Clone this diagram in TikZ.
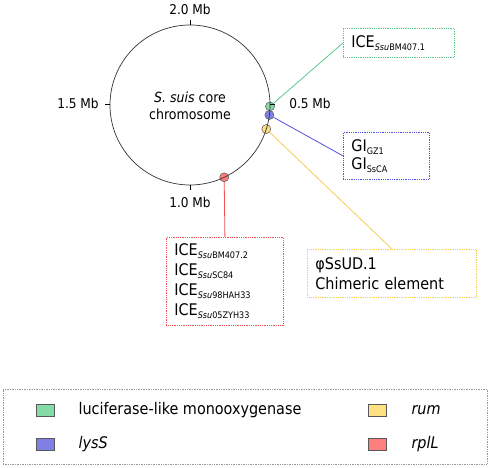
\documentclass[tikz,border=0pt]{standalone}
\usepackage{fontspec}
\setmainfont{DejaVu Sans Condensed}
\usepackage{tikz}
\usetikzlibrary{calc}
\definecolor{lucfill}{HTML}{85DBA8}
\definecolor{lucline}{HTML}{5CCB8C}
\definecolor{lysfill}{HTML}{7F7FE6}
\definecolor{lysline}{HTML}{5252E2}
\definecolor{rumfill}{HTML}{FFE184}
\definecolor{rumline}{HTML}{F5CD55}
\definecolor{rplfill}{HTML}{FF7F7F}
\definecolor{rplline}{HTML}{EF5252}
\newcommand{\subtag}[1]{\raisebox{-0.35ex}{\fontsize{9}{9}\selectfont #1}}

\begin{document}
\begin{tikzpicture}[x=1pt,y=1pt,
  mblabel/.style={font=\fontsize{13.5}{16}\selectfont},
  infobox/.style={draw,densely dotted,line width=0.8pt,align=left,inner xsep=8pt,
    inner ysep=4pt,anchor=north west},
  marker/.style={circle,draw=black!60,line width=0.6pt,minimum size=9pt,inner sep=0pt},
  swatch/.style={draw=black!65,line width=0.6pt,minimum width=18pt,minimum height=12pt,inner sep=0pt},
  keytext/.style={anchor=west,font=\fontsize{16}{18}\selectfont}]
\useasboundingbox (0,0) rectangle (490,468);
\coordinate (c) at (190,363);

% core chromosome
\node[align=center,font=\fontsize{14}{17}\selectfont] (core) at (190,362.5) {\textit{S. suis} core\\chromosome};
\node[mblabel] (mbtop) at (190,459) {2.0 Mb};
\node[mblabel] (mbleft) at (78,365) {1.5 Mb};
\node[mblabel] (mbright) at (310,365) {0.5 Mb};
\node[mblabel] (mbbottom) at (190,266) {1.0 Mb};

% insertion sites
\node[marker,fill=lucfill] (luc) at ($(c)+(-1:80)$) {};
\node[marker,fill=lysfill] (lys) at ($(c)+(-7.2:80)$) {};
\node[marker,fill=rumfill] (rum) at ($(c)+(-17.5:80)$) {};
\node[marker,fill=rplfill] (rpl) at ($(c)+(-64.7:80)$) {};

% elements
\node[infobox,draw=lucline,text width=95pt,minimum height=29pt,font=\fontsize{16}{20}\selectfont] (iceA) at (343,440)
  {ICE\subtag{\textit{Ssu}BM407.1}};
\node[infobox,draw=lysline,text width=70pt,minimum height=47pt,font=\fontsize{16}{18}\selectfont] (gi) at (343,336)
  {GI\subtag{GZ1}\\GI\subtag{SsCA}};
\node[infobox,draw=rumline,text width=153pt,minimum height=48pt,font=\fontsize{16}{20}\selectfont] (phage) at (307,219)
  {φSsUD.1\\Chimeric element};
\node[infobox,draw=rplline,text width=101pt,minimum height=88pt,font=\fontsize{16}{20}\selectfont] (iceB) at (166,231)
  {ICE\subtag{\textit{Ssu}BM407.2}\\ICE\subtag{\textit{Ssu}SC84}\\ICE\subtag{\textit{Ssu}98HAH33}\\ICE\subtag{\textit{Ssu}05ZYH33}};

\draw[lucline,line width=0.8pt] (luc) -- (iceA.west);
\draw[lysline,line width=0.8pt] (lys) -- (gi.west);
\draw[rumline,line width=0.8pt] (rum) -- (phage.north);
\draw[rplline,line width=0.8pt] (rpl) -- (iceB.north);

\draw[black!80,line width=0.7pt] (c) circle (80);
\foreach \a in {0,90,180,270}
  \draw[black,line width=1pt] ($(c)+(\a:80)$) -- ($(c)+(\a:85)$);

% legend
\node[draw=black!40,densely dotted,line width=0.7pt,minimum width=484pt,minimum height=75pt] (legend) at (245,41.5) {};
\node[swatch,fill=lucfill] (keyluc) at (45,58) {};
\node[keytext] (txtluc) at (75,58) {luciferase-like monooxygenase};
\node[swatch,fill=lysfill] (keylys) at (45,24) {};
\node[keytext] (txtlys) at (75,24) {\textit{lysS}};
\node[swatch,fill=rumfill] (keyrum) at (377.5,58) {};
\node[keytext] (txtrum) at (408,58) {\textit{rum}};
\node[swatch,fill=rplfill] (keyrpl) at (377.5,24) {};
\node[keytext] (txtrpl) at (408,24) {\textit{rplL}};
\end{tikzpicture}
\end{document}
